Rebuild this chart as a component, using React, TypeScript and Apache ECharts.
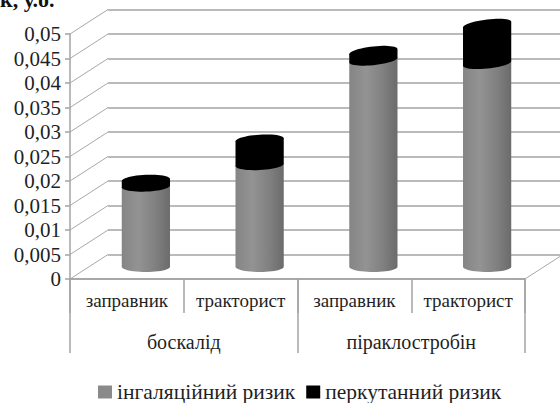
import React, { useEffect, useRef } from "react";
import * as echarts from "echarts";

const jobs = ["заправник", "тракторист", "заправник", "тракторист"];
const substances = ["боскалід", "піраклостробін"];
const inhalationRisk = [0.0164, 0.0208, 0.0422, 0.0415];
const dermalRisk = [0.0013, 0.0051, 0.0017, 0.0079];
const axisTicks = [0, 0.005, 0.01, 0.015, 0.02, 0.025, 0.03, 0.035, 0.04, 0.045, 0.05];
const seriesNames = ["інгаляційний ризик", "перкутанний ризик"];
const unitLabel = "к, у.о.";

const FONT = "'Liberation Serif', 'Times New Roman', serif";
const DEPTH_X = 38;
const DEPTH_Y = 24.5;
const LINE = "#a3a3a3";
const TEXT = "#1f1f1f";

const greyBody = {
  type: "linear",
  x: 0,
  y: 0,
  x2: 1,
  y2: 0,
  colorStops: [
    { offset: 0, color: "#858585" },
    { offset: 0.35, color: "#939393" },
    { offset: 0.7, color: "#808080" },
    { offset: 1, color: "#6b6b6b" },
  ],
};

// One stacked cylinder slice; the ellipses tilt a little more the higher they sit.
function cylinderSlice(fill: any) {
  return (params: any, api: any) => {
    const index = api.value(0);
    const from = api.value(1);
    const to = api.value(2);
    const band = api.size([1, 0])[0];
    const radius = band * 0.212;
    const ry = 5.2;
    const cx = api.coord([index, 0])[0] + DEPTH_X / 2;
    const yAt = (v: number) => api.coord([index, v])[1] - DEPTH_Y / 2;
    const slope = (v: number) => (0.12 * v) / 0.05;
    const steps = 24;
    const pts: number[][] = [];
    for (let i = 0; i <= steps; i++) {
      const a = Math.PI + (Math.PI * i) / steps;
      const dx = radius * Math.cos(a);
      pts.push([cx + dx, yAt(to) + ry * Math.sin(a) - slope(to) * dx]);
    }
    for (let i = 0; i <= steps; i++) {
      const a = (Math.PI * i) / steps;
      const dx = radius * Math.cos(a);
      pts.push([cx + dx, yAt(from) + ry * Math.sin(a) - slope(from) * dx]);
    }
    return {
      type: "polygon",
      shape: { points: pts },
      style: { fill },
    };
  };
}

// Slanted edges joining the front axis to the back wall.
function wallEdges(params: any, api: any) {
  const cs = params.coordSys;
  const y = api.coord([0, api.value(0)])[1];
  const stroke = { stroke: "#a8a8a8", lineWidth: 1 };
  const left = {
    type: "line",
    shape: { x1: cs.x, y1: y, x2: cs.x + DEPTH_X, y2: y - DEPTH_Y },
    style: stroke,
  };
  if (api.value(0) !== 0) return left;
  return {
    type: "group",
    children: [
      left,
      {
        type: "line",
        shape: { x1: cs.x + cs.width, y1: y, x2: cs.x + cs.width + DEPTH_X, y2: y - DEPTH_Y },
        style: stroke,
      },
    ],
  };
}

export default function App() {
  const ref = useRef<HTMLDivElement>(null);

  useEffect(() => {
    const chart = echarts.init(ref.current!, null, { renderer: "svg" });
    chart.setOption({
      animation: false,
      backgroundColor: "#ffffff",
      textStyle: { fontFamily: FONT },
      title: {
        text: unitLabel,
        left: 0,
        top: -12,
        padding: 0,
        textStyle: { fontFamily: FONT, fontSize: 22, fontWeight: "bold", color: "#111" },
      },
      legend: {
        left: 98,
        top: 381,
        padding: 0,
        itemWidth: 14,
        itemHeight: 13,
        itemGap: 11,
        selectedMode: false,
        textStyle: { fontFamily: FONT, fontSize: 21.5, color: TEXT },
        data: [
          { name: seriesNames[0], icon: "rect", itemStyle: { color: "#8a8a8a" } },
          { name: seriesNames[1], icon: "rect", itemStyle: { color: "#000000" } },
        ],
      },
      grid: [
        { left: 70, top: 34, width: 455, height: 245 },
        { left: 70 + DEPTH_X, top: 34 - DEPTH_Y, width: 455, height: 245 },
      ],
      xAxis: [
        {
          type: "category",
          gridIndex: 0,
          data: jobs,
          axisLine: { onZero: false, lineStyle: { color: LINE, width: 1.5 } },
          axisTick: { show: true, interval: 0, length: 34, lineStyle: { color: LINE, width: 1.5 } },
          axisLabel: { interval: 0, margin: 12, fontFamily: FONT, fontSize: 19, color: TEXT },
        },
        {
          type: "category",
          gridIndex: 0,
          position: "bottom",
          data: substances,
          axisLine: { onZero: false, lineStyle: { color: LINE, width: 1.5 } },
          axisTick: { show: true, interval: 0, length: 74, lineStyle: { color: LINE, width: 1.5 } },
          axisLabel: { interval: 0, margin: 53, fontFamily: FONT, fontSize: 20, color: TEXT },
        },
        { type: "value", gridIndex: 1, min: 0, max: 1, show: false },
      ],
      yAxis: [
        {
          type: "value",
          gridIndex: 0,
          min: 0,
          max: 0.05,
          interval: 0.005,
          axisLine: { show: true, lineStyle: { color: LINE, width: 1.5 } },
          axisTick: { show: true, length: 5, lineStyle: { color: LINE, width: 1.5 } },
          splitLine: { show: false },
          axisLabel: {
            margin: 9,
            fontFamily: FONT,
            fontSize: 21,
            color: TEXT,
            formatter: (v: number) => String(v).replace(".", ","),
          },
        },
        {
          type: "value",
          gridIndex: 1,
          min: 0,
          max: 0.05,
          interval: 0.005,
          axisLine: { show: false },
          axisTick: { show: false },
          axisLabel: { show: false },
          splitLine: { show: true, lineStyle: { color: LINE, width: 1.5 } },
        },
      ],
      series: [
        {
          type: "custom",
          silent: true,
          xAxisIndex: 0,
          yAxisIndex: 0,
          clip: false,
          renderItem: wallEdges,
          data: axisTicks.map((t) => [t]),
          encode: { y: 0 },
          z: 1,
        },
        {
          type: "custom",
          name: seriesNames[0],
          xAxisIndex: 0,
          yAxisIndex: 0,
          clip: false,
          itemStyle: { color: "#8a8a8a" },
          renderItem: cylinderSlice(greyBody),
          data: inhalationRisk.map((v, i) => [i, 0, v]),
          encode: { x: 0, y: [1, 2] },
          z: 3,
        },
        {
          type: "custom",
          name: seriesNames[1],
          xAxisIndex: 0,
          yAxisIndex: 0,
          clip: false,
          itemStyle: { color: "#000000" },
          renderItem: cylinderSlice("#000000"),
          data: dermalRisk.map((v, i) => [i, inhalationRisk[i], inhalationRisk[i] + v]),
          encode: { x: 0, y: [1, 2] },
          z: 4,
        },
      ],
    });
    return () => chart.dispose();
  }, []);

  return (
    <div
      ref={ref}
      style={{ position: "fixed", left: 0, top: 0, width: 560, height: 403 }}
    />
  );
}
